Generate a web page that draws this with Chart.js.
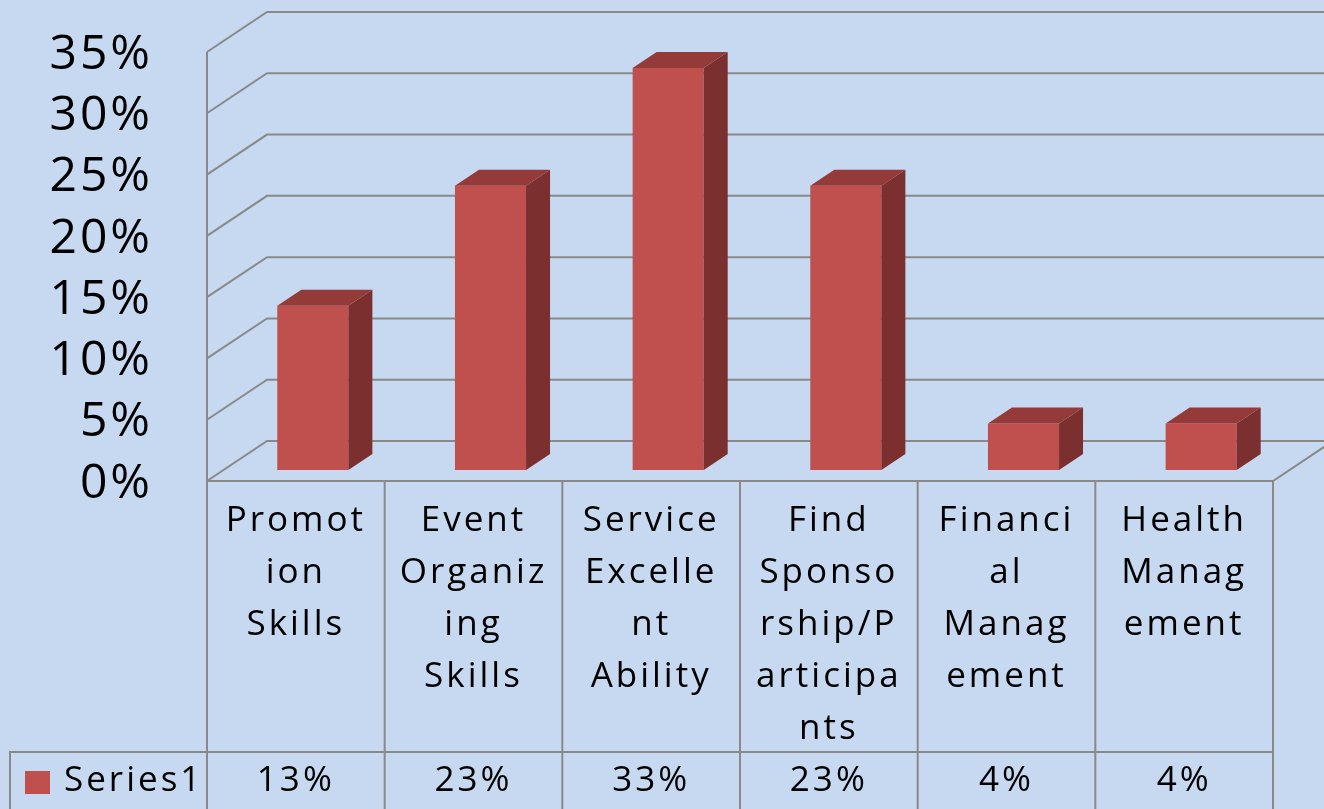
<!DOCTYPE html>
<html><head><meta charset="utf-8">
<script src="https://cdn.jsdelivr.net/npm/chart.js@4.4.0/dist/chart.umd.min.js"></script>
<style>html,body{margin:0;padding:0;background:#c6d9f1;overflow:hidden}canvas{display:block}</style>
</head><body>
<canvas id="c" width="1324" height="809"></canvas>
<script>
// ---- data ----
const categories = ["Promotion Skills", "Event Organizing Skills", "Service Excellent Ability", "Find Sponsorship/Participants", "Financial Management", "Health Management"];
const categoryLines = [
  ["Promot", "ion", "Skills"],
  ["Event", "Organiz", "ing", "Skills"],
  ["Service", "Excelle", "nt", "Ability"],
  ["Find", "Sponso", "rship/P", "articipa", "nts"],
  ["Financi", "al", "Manag", "ement"],
  ["Health", "Manag", "ement"]
];
const seriesName = "Series1";
const series1 = [0.134, 0.232, 0.328, 0.232, 0.038, 0.038];
const yTickLabels = ["0%", "5%", "10%", "15%", "20%", "25%", "30%", "35%"];

// ---- style ----
const BG = '#c6d9f1', GRID = '#898989';
const FRONT = '#c0504d', SIDE = '#7b2f2e', TOP = '#943a38';
const FONT = '"Open Sans", "Noto Sans", sans-serif';
const DX = 60, DY = -40;          // wall depth
const BDX = 24, BDY = -16;        // bar depth
const SHIFTX = 17, SHIFTY = -11;  // bar plane offset

const threeD = {
  id: 'threeD',
  beforeDraw(chart) {
    const ctx = chart.ctx;
    ctx.save(); ctx.fillStyle = BG; ctx.fillRect(0, 0, chart.width, chart.height); ctx.restore();
    ctx.letterSpacing = '3px';
  },
  beforeDatasetsDraw(chart) {
    const {ctx, chartArea: a, scales: {y}} = chart;
    ctx.save();
    ctx.strokeStyle = GRID; ctx.lineWidth = 2;
    y.ticks.forEach(t => {
      const py = y.getPixelForValue(t.value);
      ctx.beginPath();
      ctx.moveTo(a.left, py);
      ctx.lineTo(a.left + DX, py + DY);
      ctx.lineTo(chart.width + 5, py + DY);
      ctx.stroke();
    });
    ctx.beginPath();
    ctx.moveTo(a.left, y.getPixelForValue(y.max));
    ctx.lineTo(a.left, a.bottom);
    ctx.lineTo(a.right, a.bottom);
    ctx.lineTo(a.right + DX, a.bottom + DY);
    ctx.stroke();
    ctx.restore();
    ctx.save();
    ctx.translate(SHIFTX, SHIFTY);
  },
  afterDatasetsDraw(chart) {
    const ctx = chart.ctx;
    const meta = chart.getDatasetMeta(0);
    meta.data.forEach(bar => {
      const {x, y, base, width} = bar.getProps(['x', 'y', 'base', 'width'], true);
      const l = x - width / 2, r = x + width / 2;
      ctx.fillStyle = SIDE;
      ctx.beginPath();
      ctx.moveTo(r, y); ctx.lineTo(r + BDX, y + BDY); ctx.lineTo(r + BDX, base + BDY); ctx.lineTo(r, base);
      ctx.closePath(); ctx.fill();
      ctx.fillStyle = TOP;
      ctx.beginPath();
      ctx.moveTo(l, y); ctx.lineTo(l + BDX, y + BDY); ctx.lineTo(r + BDX, y + BDY); ctx.lineTo(r, y);
      ctx.closePath(); ctx.fill();
    });
    ctx.restore();
  },
  afterDraw(chart) {
    const {ctx, chartArea: a, scales: {x}} = chart;
    const n = categories.length;
    const edges = [a.left];
    for (let i = 0; i < n; i++) {
      edges.push(i < n - 1 ? (x.getPixelForTick(i) + x.getPixelForTick(i + 1)) / 2 : a.right);
    }
    ctx.save();
    ctx.strokeStyle = GRID; ctx.lineWidth = 2;
    edges.forEach(e => {
      ctx.beginPath(); ctx.moveTo(e, a.bottom); ctx.lineTo(e, chart.height + 2); ctx.stroke();
    });
    const rowTop = 752;
    ctx.beginPath();
    ctx.moveTo(10, chart.height + 2); ctx.lineTo(10, rowTop); ctx.lineTo(a.right, rowTop);
    ctx.stroke();
    ctx.fillStyle = FRONT;
    ctx.fillRect(25, 771, 25, 23);
    ctx.fillStyle = '#000';
    ctx.font = '35px ' + FONT;
    ctx.letterSpacing = '3px';
    ctx.textBaseline = 'middle';
    ctx.textAlign = 'left';
    ctx.fillText(seriesName, 64, 781);
    ctx.textAlign = 'center';
    series1.forEach((v, i) => ctx.fillText(Math.round(v * 100) + '%', x.getPixelForTick(i), 781));
    ctx.restore();
  }
};

function build() {
  new Chart(document.getElementById('c'), {
    type: 'bar',
    data: {
      labels: categoryLines,
      datasets: [{
        label: seriesName,
        data: series1,
        backgroundColor: FRONT,
        borderWidth: 0,
        categoryPercentage: 1.0,
        barPercentage: 0.4
      }]
    },
    options: {
      responsive: false,
      animation: false,
      events: [],
      layout: {padding: {top: 52, right: 51, bottom: 0, left: 0}},
      plugins: {legend: {display: false}, tooltip: {enabled: false}, title: {display: false}},
      scales: {
        x: {
          grid: {display: false, drawTicks: false},
          border: {display: false},
          ticks: {
            autoSkip: false, maxRotation: 0, minRotation: 0, padding: 14,
            color: '#000',
            font: {family: FONT, size: 35, lineHeight: 52 / 35}
          },
          afterFit(s) { s.height = 328; s.paddingLeft = 0; s.paddingRight = 0; }
        },
        y: {
          min: 0, max: 0.35,
          grid: {display: false, drawTicks: false},
          border: {display: false},
          ticks: {
            stepSize: 0.05, autoSkip: false, padding: 54, labelOffset: 3,
            color: '#000',
            font: {family: FONT, size: 48},
            callback: (v, i) => yTickLabels[i]
          },
          afterFit(s) { s.width = 207; s.paddingTop = 0; s.paddingBottom = 0; }
        }
      }
    },
    plugins: [threeD]
  });
}
if (document.fonts && document.fonts.load) {
  Promise.all([document.fonts.load('35px "Open Sans"'), document.fonts.load('48px "Open Sans"')]).then(build, build);
} else build();
</script>
</body></html>
